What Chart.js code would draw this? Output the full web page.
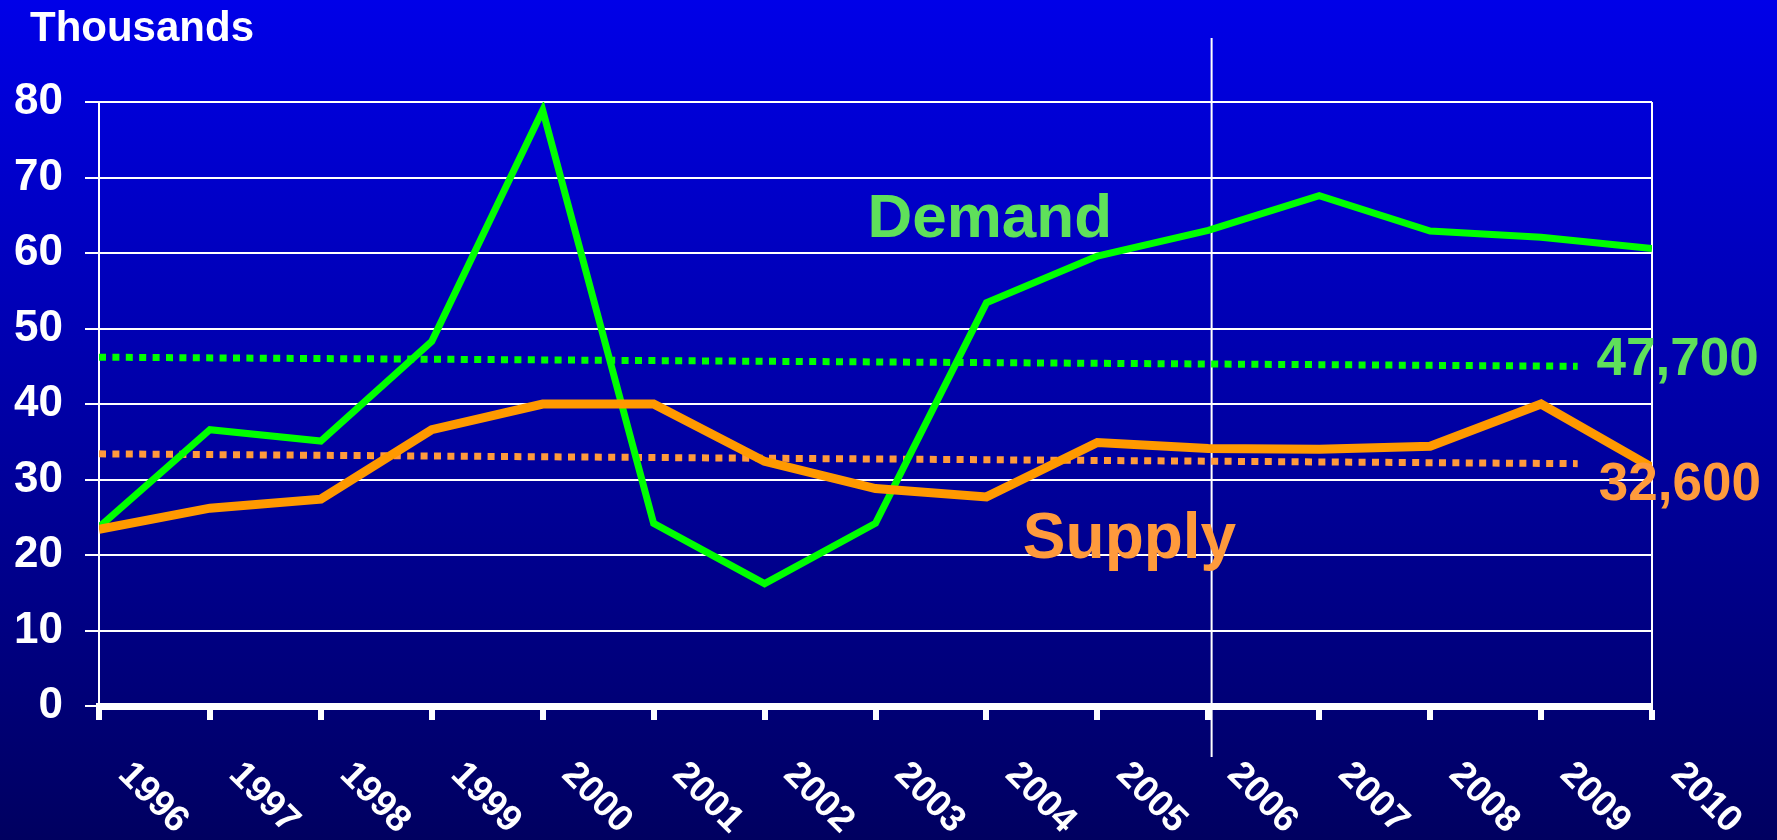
<!DOCTYPE html>
<html>
<head>
<meta charset="utf-8">
<script src="https://cdn.jsdelivr.net/npm/chart.js@4/dist/chart.umd.min.js"></script>
<style>
  html, body { margin: 0; padding: 0; background: #000080; }
  #wrap { width: 1777px; height: 840px; position: relative; }
</style>
</head>
<body>
<div id="wrap"><canvas id="c"></canvas></div>
<script>
// ---- data ----
const years = ['1996','1997','1998','1999','2000','2001','2002','2003','2004','2005','2006','2007','2008','2009','2010'];
const demand = [23.7, 36.6, 35.1, 48.3, 78.9, 24.2, 16.2, 24.2, 53.4, 59.6, 63.0, 67.6, 62.9, 62.1, 60.6];
const supply = [23.4, 26.2, 27.4, 36.6, 40.0, 40.0, 32.4, 28.8, 27.7, 34.9, 34.1, 34.0, 34.4, 40.0, 31.6];
const trendX = [0, 13.33];
const demandTrend = [46.2, 45.0];
const supplyTrend = [33.4, 32.1];
const yTicks = [0, 10, 20, 30, 40, 50, 60, 70, 80];
const dividerAt = 10.03;
const yAxisTitle = 'Thousands';
const seriesNames = ['Demand', 'Supply'];
const averageLabels = ['47,700', '32,600'];

const FONT = '"Liberation Sans", Arial, sans-serif';
const GREEN = '#00FF00';
const ORANGE = '#FF9900';
const GREEN_TXT = '#5FE05A';
const ORANGE_TXT = '#FF9A3C';

const toPts = (xs, ys) => ys.map((v, i) => ({ x: xs[i], y: v }));
const idx = years.map((_, i) => i);

// annotation placement (data coordinates)
const callouts = [
  { text: seriesNames[0], x: 8.03, y: 62.1, size: 62, color: GREEN_TXT, align: 'center' },
  { text: seriesNames[1], x: 9.29, y: 19.6, size: 64, color: ORANGE_TXT, align: 'center' },
  { text: averageLabels[0], x: 13.50, y: 43.8, size: 53, color: GREEN_TXT, align: 'left' },
  { text: averageLabels[1], x: 13.52, y: 27.3, size: 53, color: ORANGE_TXT, align: 'left' }
];

const bgPlugin = {
  id: 'bg',
  beforeDraw(chart) {
    const { ctx, width, height } = chart;
    const g = ctx.createLinearGradient(0, 0, 0, height);
    g.addColorStop(0, '#0000E8');
    g.addColorStop(1, '#000060');
    ctx.save();
    ctx.fillStyle = g;
    ctx.fillRect(0, 0, width, height);
    ctx.restore();
  },
  beforeDatasetsDraw(chart) {
    const { ctx, scales: { x } } = chart;
    const px = x.getPixelForValue(dividerAt);
    ctx.save();
    ctx.strokeStyle = '#FFFFFF';
    ctx.lineWidth = 2;
    ctx.beginPath();
    ctx.moveTo(px, 38);
    ctx.lineTo(px, 757);
    ctx.stroke();
    ctx.restore();
  },
  afterDatasetsDraw(chart) {
    const { ctx, scales: { x, y } } = chart;
    ctx.save();
    // title
    ctx.fillStyle = '#FFFFFF';
    ctx.font = 'bold 42px ' + FONT;
    ctx.textAlign = 'left';
    ctx.textBaseline = 'alphabetic';
    ctx.fillText(yAxisTitle, 30, 41);
    // x tick labels, rotated clockwise
    ctx.font = 'bold 37px ' + FONT;
    ctx.textAlign = 'center';
    ctx.textBaseline = 'middle';
    years.forEach((lab, i) => {
      const px = x.getPixelForValue(i) + 54;
      ctx.save();
      ctx.translate(px, 798);
      ctx.rotate(Math.PI / 4);
      ctx.fillText(lab, 0, 0);
      ctx.restore();
    });
    // callouts
    callouts.forEach(c => {
      ctx.font = 'bold ' + c.size + 'px ' + FONT;
      ctx.fillStyle = c.color;
      ctx.textAlign = c.align;
      ctx.textBaseline = 'alphabetic';
      ctx.fillText(c.text, x.getPixelForValue(c.x), y.getPixelForValue(c.y));
    });
    ctx.restore();
  }
};

new Chart(document.getElementById('c'), {
  type: 'line',
  data: {
    datasets: [
      { label: seriesNames[1], data: toPts(idx, supply), borderColor: ORANGE, borderWidth: 9,
        pointRadius: 0, tension: 0, borderJoinStyle: 'miter', fill: false },
      { label: seriesNames[0], data: toPts(idx, demand), borderColor: GREEN, borderWidth: 7,
        pointRadius: 0, tension: 0, borderJoinStyle: 'miter', fill: false },
      { label: 'Supply average', data: toPts(trendX, supplyTrend), borderColor: '#FF9A3C', borderWidth: 7,
        borderDash: [7, 6.4], borderCapStyle: 'butt', pointRadius: 0, fill: false },
      { label: 'Demand average', data: toPts(trendX, demandTrend), borderColor: GREEN, borderWidth: 7,
        borderDash: [7, 6.4], borderCapStyle: 'butt', pointRadius: 0, fill: false }
    ]
  },
  options: {
    responsive: true,
    maintainAspectRatio: false,
    animation: false,
    layout: { padding: { top: 102, right: 125, left: 0, bottom: 0 } },
    plugins: { legend: { display: false }, tooltip: { enabled: false } },
    scales: {
      x: {
        type: 'linear',
        min: 0, max: years.length - 1,
        afterBuildTicks: s => { s.ticks = idx.map(v => ({ value: v })); },
        afterFit: s => { s.height = 134; },
        ticks: { display: false },
        grid: {
          color: c => (c.tick && c.tick.value === years.length - 1) ? '#FFFFFF' : 'rgba(0,0,0,0)',
          lineWidth: 2,
          tickColor: '#FFFFFF',
          tickWidth: 6,
          tickLength: 14,
          drawOnChartArea: true
        },
        border: { display: true, color: '#FFFFFF', width: 7 }
      },
      y: {
        min: 0, max: 80,
        afterBuildTicks: s => { s.ticks = yTicks.map(v => ({ value: v })); },
        afterFit: s => { s.width = 99; },
        ticks: {
          color: '#FFFFFF',
          font: { family: FONT, size: 44, weight: 'bold' },
          padding: 22
        },
        grid: { color: '#FFFFFF', lineWidth: 2, tickLength: 14, tickColor: '#FFFFFF', tickWidth: 2 },
        border: { display: true, color: '#FFFFFF', width: 2 }
      }
    }
  },
  plugins: [bgPlugin]
});
</script>
</body>
</html>
